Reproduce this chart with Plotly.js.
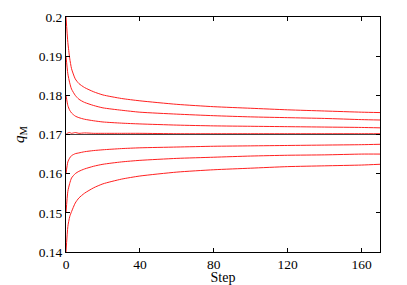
<!DOCTYPE html>
<html>
<head>
<meta charset="utf-8">
<script src="https://cdn.plot.ly/plotly-3.0.1.min.js"></script>
<style>html,body{margin:0;padding:0;background:#fff;}#chart{width:407px;height:285px;}</style>
</head>
<body>
<div id="chart"></div>
<script>
// Step values (x)
const steps = [0, 1, 2, 3, 5, 7, 10, 15, 20, 30, 40, 60, 80, 100, 120, 140, 160, 170];
// q_M runs starting from different initial values
const run020 = [0.2000, 0.1935, 0.1895, 0.1868, 0.1842, 0.1830, 0.1820, 0.1809, 0.1801, 0.1792, 0.1786, 0.1777, 0.1771, 0.1767, 0.1763, 0.1760, 0.1757, 0.1756];
const run019 = [0.1900, 0.1855, 0.1832, 0.1816, 0.1800, 0.1790, 0.1782, 0.1774, 0.1768, 0.1762, 0.1757, 0.1752, 0.1748, 0.1745, 0.1743, 0.1741, 0.1738, 0.1737];
const run018 = [0.1800, 0.1774, 0.1762, 0.1755, 0.1747, 0.1743, 0.1739, 0.1735, 0.1732, 0.1729, 0.1727, 0.1724, 0.1722, 0.1721, 0.1720, 0.1719, 0.1718, 0.1717];
const run017 = [0.1700, 0.1704, 0.1705, 0.1703, 0.1705, 0.1703, 0.1704, 0.1703, 0.1703, 0.1703, 0.1703, 0.1702, 0.1702, 0.1702, 0.1702, 0.1702, 0.1702, 0.1702];
const run016 = [0.1600, 0.1630, 0.1640, 0.1646, 0.1651, 0.1653, 0.1656, 0.1659, 0.1661, 0.1664, 0.1666, 0.1668, 0.1670, 0.1671, 0.1672, 0.1673, 0.1674, 0.1675];
const run015 = [0.1500, 0.1555, 0.1575, 0.1589, 0.1600, 0.1606, 0.1612, 0.1619, 0.1624, 0.1630, 0.1634, 0.1639, 0.1642, 0.1645, 0.1647, 0.1648, 0.1650, 0.1650];
const run014 = [0.1400, 0.1465, 0.1490, 0.1503, 0.1525, 0.1538, 0.1550, 0.1564, 0.1574, 0.1586, 0.1594, 0.1604, 0.1610, 0.1614, 0.1618, 0.1620, 0.1622, 0.1624];
// Reference (equilibrium) line
const refSteps = [0, 170];
const refValues = [0.17, 0.17];

const runs = [run020, run019, run018, run017, run016, run015, run014];
const traces = runs.map(r => ({
  x: steps, y: r, type: 'scatter', mode: 'lines',
  line: {color: '#ff2020', width: 1, shape: 'spline', smoothing: 0.6},
  hoverinfo: 'skip'
}));
traces.push({
  x: refSteps, y: refValues, type: 'scatter', mode: 'lines',
  line: {color: '#444444', width: 1.2}, hoverinfo: 'skip'
});

const tickFont = {family: 'Liberation Serif, serif', size: 13.5, color: '#000'};
const titleFont = {family: 'Liberation Serif, serif', size: 14, color: '#000'};
const layout = {
  width: 407, height: 285,
  margin: {l: 66, r: 27, t: 17, b: 33},
  paper_bgcolor: '#fff', plot_bgcolor: '#fff',
  showlegend: false,
  font: tickFont,
  xaxis: {
    range: [0, 170], tick0: 0, dtick: 40, ticks: 'inside', ticklen: 4, tickcolor: '#000',
    showline: true, linecolor: '#000', linewidth: 1, mirror: 'ticks',
    showgrid: false, zeroline: false, tickfont: tickFont,
    title: {text: 'Step', font: titleFont, standoff: 4}
  },
  yaxis: {
    range: [0.14, 0.2], tick0: 0.14, dtick: 0.01, ticks: 'inside', ticklen: 4, tickcolor: '#000',
    showline: true, linecolor: '#000', linewidth: 1, mirror: 'ticks',
    showgrid: false, zeroline: false, tickfont: tickFont,
    title: {text: '<i>q</i><sub>M</sub>', font: {family: 'Liberation Serif, serif', size: 15, color: '#000'}, standoff: 10}
  }
};
Plotly.newPlot('chart', traces, layout, {staticPlot: true, displayModeBar: false});
</script>
</body>
</html>
